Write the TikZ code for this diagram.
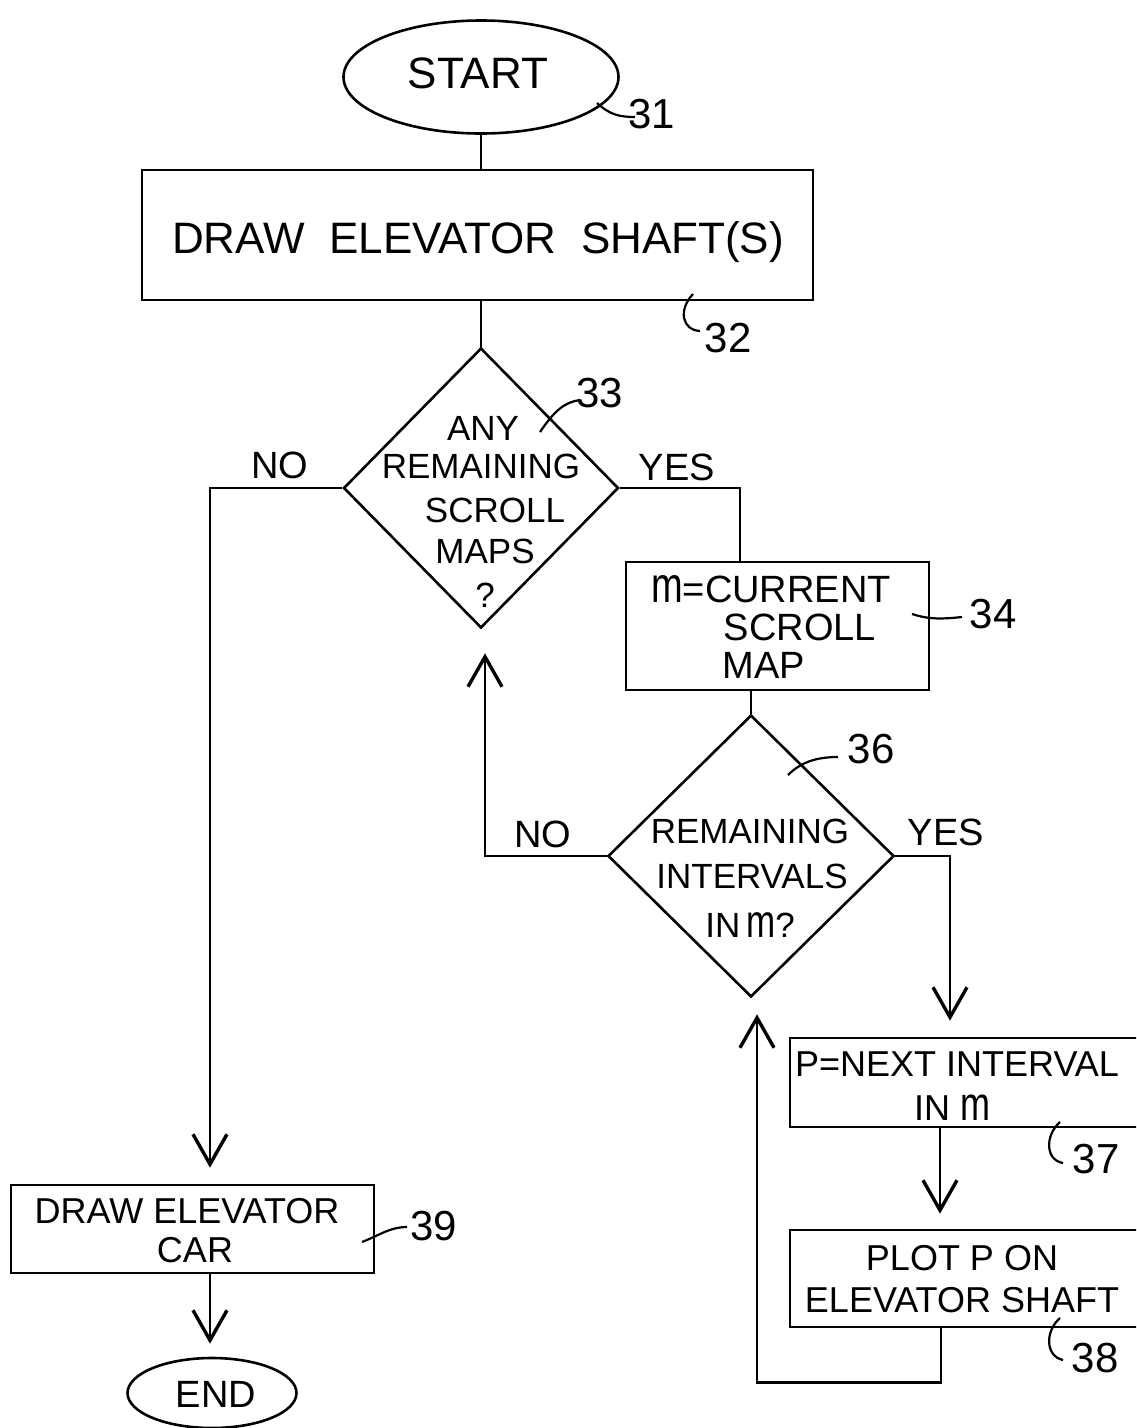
\documentclass[tikz,border=0pt]{standalone}
\usepackage{fontspec}
\usepackage{graphicx}
\setmainfont{Liberation Sans}
\usetikzlibrary{shapes.geometric,arrows.meta,calc}
\newcommand{\tallm}{\scalebox{1}[1.32]{m}}
\begin{document}
\begin{tikzpicture}[x=1pt,y=-1pt, line width=2.6pt,
  box/.style={draw, rectangle, inner sep=0pt},
  oval/.style={draw, ellipse, inner sep=0pt},
  dia/.style={draw, diamond, inner sep=0pt},
  arr/.style={-{Straight Barb[length=30pt,width=34pt,line width=3.4pt]}},
  lead/.style={line width=2.2pt},
  txt/.style={inner sep=0pt, anchor=base},
  fA/.style={font=\fontsize{44}{50}\selectfont},
  fB/.style={font=\fontsize{35}{40}\selectfont},
  fC/.style={font=\fontsize{38}{42}\selectfont},
  fD/.style={font=\fontsize{36}{40}\selectfont},
  fN/.style={font=\fontsize{42}{46}\selectfont}]
\useasboundingbox (0,0) rectangle (1136,1428);
\clip (0,0) rectangle (1136,1428);

% shapes
\node[oval, minimum width=275pt, minimum height=113pt] (start) at (481,77) {};
\node[box, minimum width=671pt, minimum height=130pt] (b32) at (477.5,235) {};
\node[dia, minimum width=275pt, minimum height=280pt] (d33) at (481,488) {};
\node[box, minimum width=303pt, minimum height=128pt] (b34) at (777.5,626) {};
\node[dia, minimum width=286pt, minimum height=282pt] (d36) at (751,856) {};
\node[box, minimum width=360pt, minimum height=89pt] (b37) at (970,1082.5) {};
\node[box, minimum width=360pt, minimum height=97pt] (b38) at (970,1278.5) {};
\node[box, minimum width=363pt, minimum height=88pt] (b39) at (192.5,1229) {};
\node[oval, minimum width=169pt, minimum height=70pt] (end) at (212,1393) {};

% texts
\node[txt,fA] (tstart) at (478,88) {START};
\node[txt,fA] (t32) at (478,253) {DRAW\ \ ELEVATOR\ \ SHAFT(S)};
\node[txt,fB] (t33a) at (483,440) {ANY};
\node[txt,fB] (t33b) at (481,478) {REMAINING};
\node[txt,fB] (t33c) at (495,522) {SCROLL};
\node[txt,fB] (t33d) at (485,563) {MAPS};
\node[txt,fB] (t33e) at (485,607) {?};
\node[txt,fC] (no1) at (280,478) {NO};
\node[txt,fC] (yes1) at (677,480) {YES};
\node[txt,fC] (t34a) at (771,602) {\tallm=CURRENT};
\node[txt,fC] (t34b) at (800,640) {SCROLL};
\node[txt,fC] (t34c) at (764,678) {MAP};
\node[txt,fB] (t36a) at (750,843) {REMAINING};
\node[txt,fB] (t36b) at (752,888) {INTERVALS};
\node[txt,fB] (t36c) at (750,937) {IN\,\tallm?};
\node[txt,fC] (no2) at (543,847) {NO};
\node[txt,fC] (yes2) at (946,845) {YES};
\node[txt,fD] (t37a) at (957,1076) {P=NEXT INTERVAL};
\node[txt,fD] (t37b) at (952,1120) {IN \tallm};
\node[txt,fD] (t38a) at (962,1270) {PLOT P ON};
\node[txt,fD] (t38b) at (962,1312) {ELEVATOR SHAFT};
\node[txt,fD] (t39a) at (187,1223) {DRAW ELEVATOR};
\node[txt,fD] (t39b) at (195,1262) {CAR};
\node[txt,fC] (tend) at (216,1407) {END};

% reference numbers
\node[txt,fN] (n31) at (652,128) {31};
\node[txt,fN] (n32) at (728,352) {32};
\node[txt,fN] (n33) at (600,407) {33};
\node[txt,fN] (n34) at (993,628) {34};
\node[txt,fN] (n36) at (871,763) {36};
\node[txt,fN] (n37) at (1096,1173) {37};
\node[txt,fN] (n38) at (1095,1372) {38};
\node[txt,fN] (n39) at (434,1240) {39};

% leaders
\draw[lead] (597,103) .. controls (610,115) and (620,117) .. (635,117);
\draw[lead] (693,294) .. controls (678,310) and (682,330) .. (700,331);
\draw[lead] (540,432) .. controls (555,410) and (565,402) .. (580,400);
\draw[lead] (912,614) .. controls (925,618) and (935,620) .. (962,617);
\draw[lead] (788,775) .. controls (800,763) and (815,757) .. (838,757);
\draw[lead] (1060,1122) .. controls (1045,1135) and (1045,1160) .. (1063,1163);
\draw[lead] (1060,1318) .. controls (1045,1331) and (1045,1356) .. (1063,1360);
\draw[lead] (362,1242) .. controls (380,1235) and (390,1227) .. (407,1227);

% helper coordinates
\coordinate (c39in) at ($(b39.north)+(17.5,0)$);
\coordinate (c34in) at ($(b34.north)+(-37.5,0)$);
\coordinate (c33back) at ($(d33.south)+(4,24)$);
\coordinate (c37in) at ($(b37.north)+(-20,0)$);
\coordinate (c37out) at ($(b37.south)+(-30,0)$);
\coordinate (c38out) at ($(b38.south)+(-29,0)$);
\coordinate (c36back) at ($(d36.south)+(6,0)$);
\coordinate (c39out) at ($(b39.south)+(17.5,0)$);

% connectors
\draw (start.south) -- (start.south |- b32.north);
\draw (d33.north |- b32.south) -- (d33.north);
\draw[arr, shorten >=16pt] (d33.west) -| (c39in);
\draw (d33.east) -| (c34in);
\draw (d36.north |- b34.south) -- (d36.north);
\draw[arr] (d36.west) -| (c33back);
\draw[arr, shorten >=16pt] (d36.east) -| (c37in);
\draw[arr, shorten >=15pt] (c37out) -- (c37out |- b38.north);
\draw[arr, shorten >=16pt] (c38out) -- ++(0,54) -| (c36back);
\draw[arr, shorten >=13pt] (c39out) -- (c39out |- end.north);
\end{tikzpicture}
\end{document}
